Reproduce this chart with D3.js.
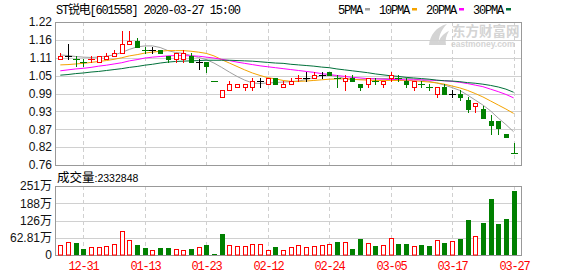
<!DOCTYPE html>
<html>
<head>
<meta charset="utf-8">
<script src="https://cdn.jsdelivr.net/npm/d3@7"></script>
<style>
    body { margin: 0; background: #fff; }
    svg { display: block; }
</style>
</head>
<body>
<div id="chart"></div>
<script>
// trading days shown (60)
var dates = ["12-26","12-27","12-30","12-31","01-02","01-03","01-06","01-07","01-08","01-09",
    "01-10","01-13","01-14","01-15","01-16","01-17","01-20","01-21","01-22","01-23",
    "02-03","02-04","02-05","02-06","02-07","02-10","02-11","02-12","02-13","02-14",
    "02-17","02-18","02-19","02-20","02-21","02-24","02-25","02-26","02-27","02-28",
    "03-02","03-03","03-04","03-05","03-06","03-09","03-10","03-11","03-12","03-13",
    "03-16","03-17","03-18","03-19","03-20","03-23","03-24","03-25","03-26","03-27"];

var opens  = [1.10,1.11,1.10,1.09,1.10,1.09,1.10,1.11,1.12,1.15, 1.16,1.13,1.13,1.13,1.11,1.10,1.10,1.11,1.09,1.09,
    1.03,0.98,1.00,1.01,1.01,1.01,1.03,1.02,1.04,1.01, 1.02,1.04,1.04,1.04,1.05,1.06,1.04,1.03,1.04,1.02,
    1.02,1.03,1.02,1.04,1.04,1.03,1.01,1.02,1.01,0.99, 1.01,0.99,0.99,0.97,0.95,0.94,0.90,0.90,0.86,0.80];
var highs  = [1.12,1.15,1.11,1.10,1.11,1.11,1.12,1.13,1.19,1.19, 1.17,1.14,1.14,1.13,1.11,1.12,1.13,1.12,1.10,1.09,
    1.03,1.00,1.03,1.02,1.02,1.04,1.04,1.04,1.04,1.03, 1.04,1.05,1.06,1.06,1.06,1.06,1.05,1.05,1.05,1.02,
    1.04,1.04,1.03,1.06,1.05,1.04,1.03,1.03,1.02,1.01, 1.02,1.00,1.00,0.98,0.96,0.95,0.92,0.90,0.86,0.83];
var lows   = [1.10,1.10,1.08,1.08,1.09,1.09,1.10,1.11,1.12,1.15, 1.14,1.12,1.12,1.12,1.09,1.09,1.09,1.09,1.07,1.06,
    1.03,0.98,1.00,1.01,1.00,1.00,1.01,1.02,1.02,1.01, 1.02,1.03,1.03,1.04,1.04,1.05,1.01,1.00,1.03,1.00,
    1.01,1.02,1.01,1.03,1.03,1.01,1.00,1.01,1.00,0.98, 0.99,0.98,0.97,0.93,0.93,0.91,0.86,0.86,0.85,0.80];
var closes = [1.11,1.11,1.10,1.09,1.10,1.11,1.11,1.12,1.15,1.16, 1.14,1.13,1.13,1.12,1.10,1.12,1.12,1.09,1.09,1.08,
    1.03,1.00,1.02,1.02,1.02,1.03,1.03,1.04,1.02,1.02, 1.03,1.04,1.04,1.05,1.05,1.05,1.04,1.04,1.03,1.01,
    1.04,1.03,1.03,1.05,1.04,1.02,1.03,1.02,1.01,1.01, 0.99,0.99,0.98,0.94,0.96,0.91,0.89,0.88,0.85,0.80];
var prevClose = 1.10;

// volume, in 万 shares
var volumes = [36.8,47.8,44.1,22.1,28.2,28.2,33.1,40.5,88.3,55.2, 36.8,27.0,18.4,25.7,25.7,20.8,18.4,22.1,28.2,36.8,
    3.7,77.2,36.8,33.1,33.1,40.5,40.5,18.4,29.4,18.4, 29.4,36.8,29.4,33.1,36.8,40.5,47.8,47.8,22.1,58.8,
    44.1,33.1,36.8,62.5,40.5,40.5,33.1,36.8,33.1,55.2, 44.1,51.5,58.8,128.7,69.9,117.7,202.3,114.0,132.4,233.2848];

// moving averages
var ma5  = [1.114,1.112,1.109,1.107,1.106,1.107,1.110,1.114,1.122,1.132, 1.140,1.143,1.143,1.138,1.128,1.122,1.119,1.112,1.106,1.099,
    1.088,1.074,1.059,1.045,1.033,1.024,1.022,1.024,1.025,1.027, 1.028,1.030,1.035,1.041,1.048,1.049,1.045,1.038,1.035,1.035,
    1.037,1.038,1.038,1.039,1.039,1.039,1.037,1.033,1.029,1.024, 1.017,1.009,1.000,0.985,0.969,0.953,0.934,0.911,0.890,0.867];
var ma10 = [1.082,1.083,1.085,1.087,1.090,1.093,1.096,1.100,1.105,1.111, 1.115,1.120,1.123,1.126,1.128,1.128,1.128,1.126,1.123,1.119,
    1.111,1.099,1.088,1.077,1.066,1.056,1.048,1.041,1.037,1.032, 1.029,1.029,1.030,1.032,1.034,1.036,1.037,1.037,1.036,1.034,
    1.033,1.032,1.032,1.032,1.032,1.032,1.031,1.029,1.027,1.024, 1.020,1.014,1.008,1.000,0.990,0.979,0.966,0.953,0.940,0.926];
var ma20 = [1.063,1.066,1.069,1.071,1.074,1.078,1.081,1.085,1.089,1.095, 1.099,1.104,1.107,1.109,1.111,1.112,1.112,1.111,1.110,1.107,
    1.104,1.100,1.096,1.091,1.087,1.083,1.079,1.076,1.073,1.070, 1.067,1.064,1.061,1.058,1.054,1.051,1.048,1.045,1.042,1.040,
    1.038,1.037,1.036,1.035,1.035,1.034,1.034,1.034,1.033,1.032, 1.031,1.029,1.026,1.022,1.017,1.012,1.004,0.996,0.987,0.976];
var ma30 = [1.049,1.051,1.054,1.056,1.059,1.061,1.064,1.067,1.070,1.074, 1.077,1.081,1.084,1.088,1.091,1.093,1.094,1.095,1.096,1.097,
    1.097,1.097,1.097,1.096,1.095,1.094,1.092,1.090,1.088,1.087, 1.084,1.082,1.080,1.078,1.075,1.073,1.069,1.066,1.063,1.060,
    1.057,1.053,1.050,1.047,1.045,1.042,1.040,1.038,1.036,1.033, 1.031,1.030,1.028,1.025,1.023,1.020,1.016,1.011,1.004,0.994];

var priceTicks = [0.76, 0.8175, 0.875, 0.9325, 0.99, 1.0475, 1.105, 1.1625, 1.22];
var priceTickLabels = ["0.76","0.82","0.87","0.93","0.99","1.05","1.11","1.16","1.22"];
var volTicks = [0, 62.81, 125.62, 188.43, 251.24];
var volTickLabels = ["0","62.81万","126万","188万","251万"];
var dateTicks = ["12-31","01-13","01-23","02-12","02-24","03-05","03-17","03-27"];

var maNames = ["5PMA","10PMA","20PMA","30PMA"];
var maColors = ["#a0a0a0","#f5a300","#ff00ff","#00703a"];
var maSeries = [ma5, ma10, ma20, ma30];

var title = "ST锐电[601558] 2020-03-27 15:00";
var volTitle = "成交量";
var volLast = "2332848";

var W = 578, H = 276;
var left = 55, right = 522;
var red = "#ff0000", green = "#008000";
var mono = "'Liberation Mono', 'DejaVu Sans Mono', 'Noto Sans CJK SC', monospace";
var sans = "'Liberation Sans', Arial, 'Noto Sans CJK SC', sans-serif";

var svg = d3.select("#chart")
    .append("svg")
    .attr("width", W)
    .attr("height", H);

var x = d3.scaleLinear().domain([0, dates.length - 1]).range([60.3, 513.6]);
var y = d3.scaleLinear().domain([0.76, 1.22]).range([165, 22]);
var yv = d3.scaleLinear().domain([0, 251.24]).range([255, 186]);

var px = function (i) { return Math.round(x(i)); };

// candle direction: up / down / flat
var dir = function (i) {
    var pc = i ? closes[i - 1] : prevClose;
    if (closes[i] > opens[i]) return "up";
    if (closes[i] < opens[i]) return "down";
    return closes[i] > pc ? "up" : (closes[i] < pc ? "down" : "flat");
};
var volUp = function (i) {
    var pc = i ? closes[i - 1] : prevClose;
    return closes[i] >= pc;
};

// ---- header
svg.append("text")
    .attr("x", 56)
    .attr("y", 13.5)
    .style("font-family", mono)
    .style("font-size", "12px")
    .style("letter-spacing", "-1.2px")
    .attr("fill", "#000")
    .text(title);

var lx = 338;
maNames.forEach(function (n, k) {
    svg.append("text")
        .attr("x", lx)
        .attr("y", 13.5)
        .style("font-family", mono)
        .style("font-size", "12px")
        .style("letter-spacing", "-1.2px")
        .attr("fill", "#000")
        .text(n);
    var dx = lx + n.length * 6 + 3;
    svg.append("rect")
        .attr("x", dx)
        .attr("y", 8)
        .attr("width", 5)
        .attr("height", 2.5)
        .attr("fill", maColors[k]);
    lx = dx + 5 + 9;
});

// ---- watermark
var wm = svg.append("g").attr("fill", "#d4d4d4");
wm.append("path")
    .attr("d", "M429,45 C430,35 436,27 447,24 C441,30 438,37 439,45 Z");
wm.append("path")
    .attr("d", "M437,45 C440,37 444,33 449,31 C446,36 445,40 446,45 Z");
wm.append("text")
    .attr("x", 452)
    .attr("y", 36)
    .style("font-family", "'Noto Sans CJK SC', sans-serif")
    .style("font-size", "13.5px")
    .style("font-weight", "bold")
    .text("东方财富网");
wm.append("text")
    .attr("x", 451)
    .attr("y", 46.5)
    .style("font-family", sans)
    .style("font-size", "8.5px")
    .style("font-weight", "bold")
    .text("eastmoney.com");

// ---- grids
var gridColor = "#d0d0d0";
var frameColor = "#999";

var panels = [
    { top: 22, bottom: 165, ticks: priceTicks, scale: y },
    { top: 186, bottom: 255, ticks: volTicks, scale: yv }
];
panels.forEach(function (p) {
    svg.append("g")
        .selectAll("line")
        .data(p.ticks)
        .enter()
        .append("line")
        .attr("x1", left)
        .attr("x2", right)
        .attr("y1", function (d) { return Math.round(p.scale(d)) + 0.5; })
        .attr("y2", function (d) { return Math.round(p.scale(d)) + 0.5; })
        .attr("stroke", gridColor);
    svg.append("g")
        .selectAll("line")
        .data(dateTicks)
        .enter()
        .append("line")
        .attr("x1", function (d) { return px(dates.indexOf(d)) + 0.5; })
        .attr("x2", function (d) { return px(dates.indexOf(d)) + 0.5; })
        .attr("y1", p.top)
        .attr("y2", p.bottom)
        .attr("stroke", gridColor)
        .attr("stroke-dasharray", "4,3");
    svg.append("rect")
        .attr("x", left + 0.5)
        .attr("y", p.top + 0.5)
        .attr("width", right - left - 1)
        .attr("height", p.bottom - p.top)
        .attr("fill", "none")
        .attr("stroke", frameColor);
});

// ---- axis labels
svg.append("g")
    .selectAll("text")
    .data(priceTicks)
    .enter()
    .append("text")
    .attr("x", 52)
    .attr("y", function (d) { return y(d); })
    .attr("dy", "0.36em")
    .attr("text-anchor", "end")
    .style("font-family", sans)
    .style("font-size", "12px")
    .attr("fill", "#111")
    .text(function (d, k) { return priceTickLabels[k]; });

svg.append("g")
    .selectAll("text")
    .data(volTicks)
    .enter()
    .append("text")
    .attr("x", 52)
    .attr("y", function (d) { return yv(d); })
    .attr("dy", "0.36em")
    .attr("text-anchor", "end")
    .style("font-family", sans)
    .style("font-size", "12px")
    .attr("fill", "#111")
    .text(function (d, k) { return volTickLabels[k]; });

svg.append("g")
    .selectAll("text")
    .data(dateTicks)
    .enter()
    .append("text")
    .attr("x", function (d) { return px(dates.indexOf(d)) + 0.5; })
    .attr("y", 270)
    .attr("text-anchor", "middle")
    .style("font-family", mono)
    .style("font-size", "12px")
    .style("letter-spacing", "-1.2px")
    .attr("fill", red)
    .text(function (d) { return d; });

var vt = svg.append("text")
    .attr("x", 57)
    .attr("y", 181.5)
    .attr("fill", "#000");
vt.append("tspan")
    .style("font-family", "'Noto Sans CJK SC', sans-serif")
    .style("font-size", "12.5px")
    .text(volTitle);
vt.append("tspan")
    .style("font-family", sans)
    .style("font-size", "10.5px")
    .text(":" + volLast);

// ---- moving averages
maSeries.forEach(function (s, k) {
    svg.append("path")
        .datum(s)
        .attr("fill", "none")
        .attr("stroke", maColors[k])
        .attr("stroke-width", 1)
        .attr("d", d3.line()
            .x(function (d, i) { return x(i); })
            .y(function (d) { return y(d); }));
});

// ---- candles
var colorOf = { up: red, down: green, flat: "#000" };
var candles = svg.append("g")
    .selectAll("g")
    .data(d3.range(dates.length))
    .enter()
    .append("g");

candles.each(function (i) {
    var g = d3.select(this);
    var c = px(i);
    var dr = dir(i);
    var col = colorOf[dr];
    var top = Math.round(y(Math.max(opens[i], closes[i])));
    var bot = Math.round(y(Math.min(opens[i], closes[i])));
    var hi = Math.round(y(highs[i]));
    var lo = Math.round(y(lows[i]));

    if (top === bot) {
        g.append("line")
            .attr("x1", c + 0.5).attr("x2", c + 0.5)
            .attr("y1", hi).attr("y2", lo + 1)
            .attr("stroke", col);
        g.append("line")
            .attr("x1", c - 3).attr("x2", c + 4)
            .attr("y1", top + 0.5).attr("y2", top + 0.5)
            .attr("stroke", col);
        return;
    }
    if (hi < top) {
        g.append("line")
            .attr("x1", c + 0.5).attr("x2", c + 0.5)
            .attr("y1", hi).attr("y2", top)
            .attr("stroke", col);
    }
    if (lo > bot) {
        g.append("line")
            .attr("x1", c + 0.5).attr("x2", c + 0.5)
            .attr("y1", bot + 1).attr("y2", lo + 1)
            .attr("stroke", col);
    }
    if (dr === "up") {
        g.append("rect")
            .attr("x", c - 1.5).attr("y", top + 0.5)
            .attr("width", 4).attr("height", bot - top)
            .attr("fill", "#fff")
            .attr("stroke", col);
    } else {
        g.append("rect")
            .attr("x", c - 2).attr("y", top)
            .attr("width", 5).attr("height", bot - top + 1)
            .attr("fill", col);
    }
});

// ---- volume bars
svg.append("g")
    .selectAll("rect")
    .data(volumes)
    .enter()
    .append("rect")
    .attr("x", function (d, i) { return volUp(i) ? px(i) - 1.5 : px(i) - 2; })
    .attr("y", function (d, i) { return volUp(i) ? Math.round(yv(d)) + 0.5 : Math.round(yv(d)); })
    .attr("width", function (d, i) { return volUp(i) ? 4 : 5; })
    .attr("height", function (d, i) {
        return volUp(i) ? 255 - Math.round(yv(d)) - 0.5 : 255 - Math.round(yv(d));
    })
    .attr("fill", function (d, i) { return volUp(i) ? "#fff" : green; })
    .attr("stroke", function (d, i) { return volUp(i) ? red : "none"; });
</script>
</body>
</html>
